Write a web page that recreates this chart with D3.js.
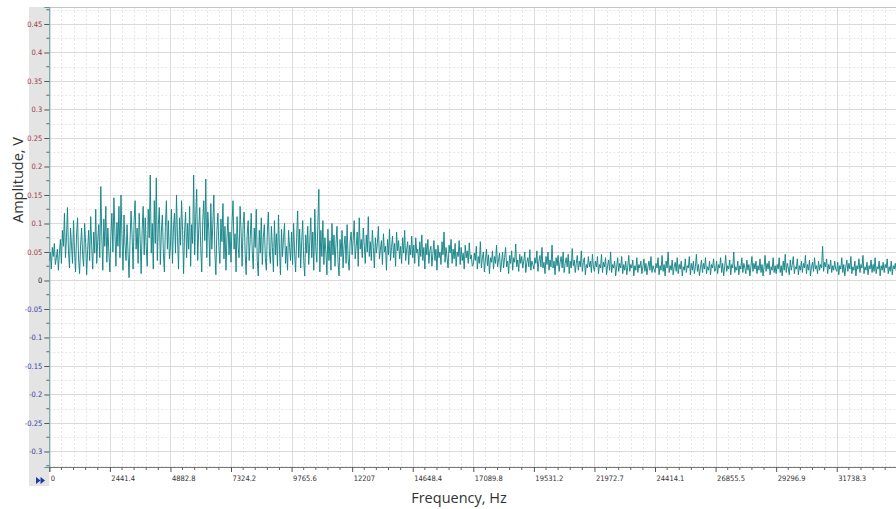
<!DOCTYPE html>
<html><head><meta charset="utf-8">
<script src="https://cdn.jsdelivr.net/npm/d3@7"></script>
<style>html,body{margin:0;padding:0;background:#fff;overflow:hidden}</style>
</head><body>
<svg id="c" width="896" height="509"></svg>
<script>
// ---- data ----
const freqStep = 2441.40625 / 60; // Hz between spectrum bins
const xMajorTicks = [0, 2441.4, 4882.8, 7324.2, 9765.6, 12207, 14648.4, 17089.8, 19531.2, 21972.7, 24414.1, 26855.5, 29296.9, 31738.3];
const xTickLabels = ["0","2441.4","4882.8","7324.2","9765.6","12207","14648.4","17089.8","19531.2","21972.7","24414.1","26855.5","29296.9","31738.3"];
const yMajorTicks = [0.45,0.4,0.35,0.3,0.25,0.2,0.15,0.1,0.05,0,-0.05,-0.1,-0.15,-0.2,-0.25,-0.3];
const yTickLabels = ["0.45","0.4","0.35","0.3","0.25","0.2","0.15","0.1","0.05","0","-0.05","-0.1","-0.15","-0.2","-0.25","-0.3"];
const amplitude = [
 .035,.050,.020,.058,.042,.065,.028,.040,.055,.018,.048,.072,.030,.088,.060,.118,.040,.075,.128,.050,.022,.092,.062,.030,.105,.050,.015,.080,.110,.038,
 .012,.062,.092,.045,.025,.100,.065,.010,.055,.088,.035,.112,.060,.020,.085,.048,.125,.030,.072,.098,.040,.165,.078,.018,.108,.060,.130,.032,.092,.050,
 .015,.078,.118,.050,.145,.085,.025,.102,.060,.130,.040,.150,.075,.018,.115,.062,.035,.098,.048,.005,.070,.122,.080,.020,.105,.140,.055,.092,.030,.118,
 .072,.012,.090,.130,.045,.110,.060,.025,.125,.075,.185,.048,.100,.020,.140,.065,.180,.035,.098,.128,.028,.085,.115,.048,.015,.095,.140,.055,.105,.038,
 .060,.125,.030,.092,.118,.048,.150,.075,.020,.110,.062,.140,.088,.012,.085,.120,.040,.100,.055,.130,.025,.098,.065,.185,.045,.112,.160,.035,.090,.128,
 .058,.015,.105,.140,.070,.178,.040,.120,.088,.025,.135,.055,.100,.150,.048,.010,.088,.118,.058,.030,.108,.068,.135,.038,.095,.018,.075,.112,.045,.085,
 .032,.100,.140,.055,.082,.015,.112,.060,.040,.130,.085,.025,.098,.120,.048,.010,.080,.105,.035,.072,.118,.052,.020,.092,.058,.125,.035,.008,.088,.048,
 .110,.028,.075,.098,.040,.018,.085,.120,.050,.030,.095,.058,.015,.105,.045,.082,.025,.115,.055,.010,.090,.042,.075,.100,.030,.060,.018,.088,.058,.035,
 .085,.028,.100,.048,.015,.075,.122,.040,.090,.022,.068,.105,.035,.008,.080,.048,.095,.028,.068,.110,.040,.085,.018,.125,.055,.032,.098,.160,.015,.088,
 .042,.105,.028,.075,.050,.010,.090,.035,.070,.018,.100,.045,.080,.025,.065,.095,.032,.008,.072,.042,.088,.022,.062,.078,.030,.098,.038,.018,.068,.085,
 .045,.070,.105,.038,.060,.085,.025,.110,.055,.072,.040,.092,.062,.030,.080,.050,.112,.042,.068,.035,.088,.058,.022,.075,.048,.065,.095,.038,.055,.070,
 .028,.082,.050,.060,.018,.072,.045,.090,.035,.058,.078,.040,.065,.025,.085,.052,.070,.038,.060,.030,.075,.048,.088,.035,.055,.068,.028,.062,.045,.078,
 .040,.062,.030,.075,.048,.055,.025,.068,.042,.080,.035,.058,.020,.065,.045,.072,.030,.052,.060,.025,.048,.070,.035,.055,.018,.062,.040,.050,.028,.068,
 .045,.085,.032,.058,.040,.022,.062,.048,.072,.030,.055,.038,.065,.025,.050,.042,.070,.028,.058,.035,.048,.020,.062,.040,.052,.030,.066,.038,.045,.025,
 .028,.048,.035,.060,.020,.042,.030,.068,.022,.040,.050,.015,.036,.055,.026,.045,.012,.040,.032,.052,.020,.042,.030,.062,.024,.036,.048,.015,.032,.050,
 .022,.040,.058,.024,.034,.012,.044,.030,.052,.018,.040,.032,.064,.024,.036,.016,.046,.030,.042,.022,.034,.050,.014,.032,.040,.024,.054,.018,.034,.028,
 .020,.040,.030,.052,.016,.034,.044,.024,.058,.022,.032,.012,.042,.028,.050,.018,.036,.024,.062,.022,.034,.010,.040,.026,.044,.016,.032,.042,.022,.050,
 .014,.030,.040,.024,.046,.012,.034,.022,.056,.026,.036,.014,.030,.044,.018,.034,.024,.052,.016,.032,.040,.010,.028,.022,.042,.024,.034,.014,.046,.024,
 .016,.034,.024,.042,.012,.028,.022,.046,.014,.032,.024,.040,.010,.026,.036,.018,.050,.014,.028,.022,.034,.008,.024,.040,.016,.030,.022,.042,.012,.028,
 .018,.034,.010,.024,.044,.016,.028,.022,.036,.008,.026,.018,.040,.014,.028,.022,.034,.012,.024,.038,.016,.030,.010,.024,.034,.018,.042,.014,.026,.020,
 .014,.030,.022,.040,.010,.026,.018,.044,.016,.028,.008,.034,.022,.050,.014,.026,.018,.036,.010,.024,.032,.016,.040,.012,.028,.020,.034,.008,.024,.018,
 .038,.014,.026,.022,.042,.010,.030,.018,.034,.012,.024,.046,.016,.028,.008,.022,.036,.014,.030,.020,.040,.012,.024,.018,.034,.010,.028,.022,.038,.016,
 .018,.034,.012,.028,.022,.040,.014,.030,.008,.024,.044,.016,.026,.020,.036,.010,.028,.022,.050,.014,.024,.018,.034,.010,.026,.020,.040,.014,.030,.022,
 .012,.036,.018,.028,.008,.024,.042,.016,.030,.020,.034,.012,.026,.018,.038,.014,.028,.008,.024,.044,.016,.030,.020,.034,.010,.024,.018,.040,.014,.026,
 .012,.028,.020,.040,.014,.026,.008,.034,.018,.046,.014,.030,.022,.010,.036,.018,.028,.042,.012,.024,.020,.038,.010,.026,.018,.034,.014,.030,.022,.044,
 .012,.028,.018,.036,.008,.024,.032,.016,.040,.020,.026,.012,.034,.018,.028,.022,.060,.016,.032,.024,.038,.012,.028,.020,.036,.014,.026,.018,.034,.020,
 .016,.032,.010,.026,.020,.040,.014,.028,.008,.024,.036,.016,.030,.020,.042,.012,.024,.018,.034,.008,.026,.020,.038,.014,.028,.022,.044,.012,.024,.018,
 .032,.010,.026,.020,.036,.014,.028,.016,.040,.012,.024,.020,.034,.008,.026,.018,.032,.014,.028,.022,.038,.012,.024,.016,.034,.010,.026,.020,.030,.016
];

// ---- layout ----
const L = 49.3, R = 897.3, T = 7, B = 467;
const svg = d3.select("#c");
const x = d3.scaleLinear().domain([0, 2441.40625 * 14]).range([L, R]);
const y = d3.scaleLinear().domain([-0.3272, 0.4798]).range([B, T]);

// left gray band
svg.append("rect").attr("x", 29).attr("y", T).attr("width", L - 29).attr("height", 486 - T).attr("fill", "#e4e4e4");

const plot = svg.append("g");
plot.append("rect").attr("x", L).attr("y", T).attr("width", R - L).attr("height", B - T).attr("fill", "#fff");

// minor grid
const xMinor = d3.range(0, 2441.40625 * 14 + 1, 2441.40625 / 5);
const yMinor = d3.range(-0.325, 0.476, 0.025).map(v => +v.toFixed(3));
plot.append("g").selectAll("line").data(xMinor).join("line")
  .attr("x1", d => Math.round(x(d)) + 0.5).attr("x2", d => Math.round(x(d)) + 0.5).attr("y1", T).attr("y2", B)
  .attr("stroke", "#e6e6e6").attr("stroke-dasharray", "2,2").attr("stroke-width", 1);
plot.append("g").selectAll("line").data(yMinor).join("line")
  .attr("x1", L).attr("x2", R).attr("y1", d => Math.round(y(d)) + 0.5).attr("y2", d => Math.round(y(d)) + 0.5)
  .attr("stroke", "#e6e6e6").attr("stroke-dasharray", "2,2").attr("stroke-width", 1);
// major grid
plot.append("g").selectAll("line").data(xMajorTicks).join("line")
  .attr("x1", d => Math.round(x(d)) + 0.5).attr("x2", d => Math.round(x(d)) + 0.5).attr("y1", T).attr("y2", B)
  .attr("stroke", "#dcdcdc").attr("stroke-width", 1);
plot.append("g").selectAll("line").data(yMajorTicks).join("line")
  .attr("x1", L).attr("x2", R).attr("y1", d => Math.round(y(d)) + 0.5).attr("y2", d => Math.round(y(d)) + 0.5)
  .attr("stroke", "#dadada").attr("stroke-width", 1);
// top border
svg.append("line").attr("x1", L).attr("x2", R).attr("y1", T + 0.5).attr("y2", T + 0.5).attr("stroke", "#c4c4c4");

// signal
const line = d3.line().x((d, i) => x(i * freqStep)).y(d => y(d));
plot.append("path").datum(amplitude).attr("d", line)
  .attr("fill", "none").attr("stroke", "#148487").attr("stroke-width", 0.95).attr("stroke-linejoin", "miter");

// y axis
const yAxis = d3.axisLeft(y).tickValues(yMajorTicks).tickSize(5).tickPadding(2)
  .tickFormat((d, i) => yTickLabels[i]);
const gy = svg.append("g").attr("transform", `translate(${L},0)`).call(yAxis);
gy.select(".domain").attr("stroke", "#5a9aa6");
gy.selectAll(".tick line").attr("stroke", "#555");
gy.selectAll(".tick text")
  .attr("font-family", "'Liberation Sans Narrow', 'DejaVu Sans Condensed', sans-serif")
  .attr("font-size", 7.5)
  .attr("fill", d => d > 0 ? "#9a3a44" : (d < 0 ? "#3a3e9c" : "#222"));
const yMinorOnly = yMinor.filter(v => Math.abs(Math.round(v * 1000) % 50) !== 0);
svg.append("g").selectAll("line").data(yMinorOnly).join("line")
  .attr("x1", L - 3).attr("x2", L).attr("y1", d => y(d)).attr("y2", d => y(d)).attr("stroke", "#666");

// x axis
const xAxis = d3.axisBottom(x).tickValues(xMajorTicks).tickSize(5).tickPadding(6)
  .tickFormat((d, i) => xTickLabels[i]);
const gx = svg.append("g").attr("transform", `translate(0,${B})`).call(xAxis);
gx.select(".domain").attr("stroke", "#777");
gx.selectAll(".tick line").attr("stroke", "#555");
gx.selectAll(".tick text")
  .attr("font-family", "'Liberation Sans Narrow', 'DejaVu Sans Condensed', sans-serif")
  .attr("font-size", 7.5).attr("fill", "#333")
  .attr("text-anchor", "start").attr("dx", 1).attr("dy", "0.4em");
svg.append("g").selectAll("line").data(xMinor.filter((d, i) => i % 5 !== 0)).join("line")
  .attr("x1", d => x(d)).attr("x2", d => x(d)).attr("y1", B).attr("y2", B + 3).attr("stroke", "#666");

// fast-forward icon
const ic = svg.append("g").attr("fill", "#1f3aa8");
ic.append("path").attr("d", "M36,477 L40.5,480.5 L36,484 Z");
ic.append("path").attr("d", "M40.5,477 L45,480.5 L40.5,484 Z");

// titles
svg.append("text").attr("transform", "translate(23,180) rotate(-90)").attr("text-anchor", "middle")
  .attr("font-family", "'Open Sans', sans-serif").attr("font-size", 14.5).attr("fill", "#333").text("Amplitude, V");
svg.append("text").attr("x", 459).attr("y", 503).attr("text-anchor", "middle")
  .attr("font-family", "'Open Sans', sans-serif").attr("font-size", 14.5).attr("fill", "#333").text("Frequency, Hz");
</script>
</body></html>
